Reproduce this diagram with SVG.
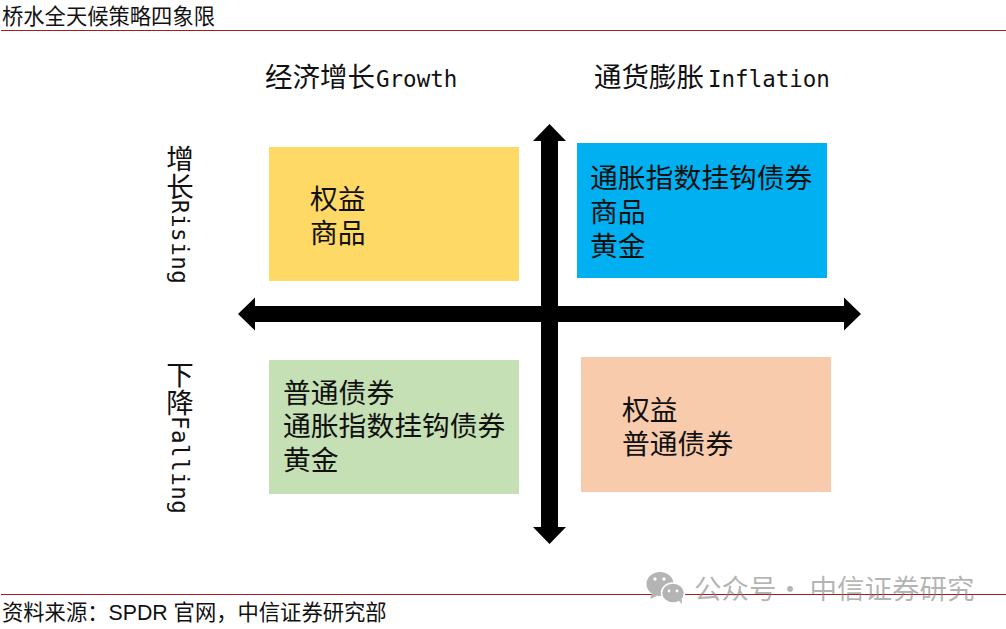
<svg xmlns="http://www.w3.org/2000/svg" width="1006" height="629" viewBox="0 0 1006 629">
<style>
text{font-family:"Noto Sans CJK SC","Liberation Sans",sans-serif;fill:#111}
.cap{font-size:21.300px}
.box{font-size:27.800px}
.head{font-size:27.500px}
.lat{font-family:"DejaVu Sans Mono","Liberation Mono",monospace;font-size:22.500px}
.vert{writing-mode:vertical-rl}
.vert .lat{letter-spacing:.5px}
.rule{stroke:#a51c1c;stroke-width:1.2}
.wm{font-size:27.500px;fill:#7a7a7a;fill-opacity:.56}
</style>
<rect width="1006" height="629" fill="#fff"/>
<g id="title"><text class="cap" x="2" y="24" textLength="213">桥水全天候策略四象限</text></g>
<line class="rule" x1="1" y1="30.500" x2="1006" y2="30.500"/>
<g id="head-growth"><text class="head" x="265" y="87">经济增长<tspan class="lat" dx="1">Growth</tspan></text></g>
<g id="head-inflation"><text class="head" x="594" y="87">通货膨胀<tspan class="lat" dx="4">Inflation</tspan></text></g>
<g id="side-rising"><text class="head vert" x="180" y="145">增长<tspan class="lat">Rising</tspan></text></g>
<g id="side-falling"><text class="head vert" x="180" y="361">下降<tspan class="lat">Falling</tspan></text></g>
<g id="q1"><rect x="269" y="147" width="250" height="134" fill="#ffd966"/>
<text class="box"><tspan x="310" y="209">权益</tspan><tspan x="310" y="243">商品</tspan></text></g>
<g id="q2"><rect x="577" y="143" width="250" height="135" fill="#00b0f0"/>
<text class="box"><tspan x="590" y="188">通胀指数挂钩债券</tspan><tspan x="590" y="222">商品</tspan><tspan x="590" y="256">黄金</tspan></text></g>
<g id="q3"><rect x="269" y="360" width="250" height="134" fill="#c5e0b4"/>
<text class="box"><tspan x="283" y="403">普通债券</tspan><tspan x="283" y="436">通胀指数挂钩债券</tspan><tspan x="283" y="470">黄金</tspan></text></g>
<g id="q4"><rect x="581" y="357" width="250" height="135" fill="#f8cbad"/>
<text class="box"><tspan x="622" y="420">权益</tspan><tspan x="622" y="454">普通债券</tspan></text></g>
<g id="connectors" fill="#000">
<path d="M549.500 124L566 141H558V527H566L549.500 544L533 527H541V141H533Z"/>
<path d="M238 314L255 297.500V306H844V297.500L861 314L844 330.500V322H255V330.500Z"/>
</g>
<line class="rule" x1="1" y1="594.500" x2="1006" y2="594.500"/>
<g id="source"><text class="cap" x="2" y="620">资料来源：<tspan font-family="Liberation Sans">SPDR </tspan>官网，中信证券研究部</text></g>
<g id="watermark">
<g fill="#b4b4b4"><ellipse cx="660" cy="584" rx="13.500" ry="12"/><path d="M652 593l-2 6 7-3z"/><ellipse cx="673" cy="593" rx="11.500" ry="10" stroke="#fff" stroke-width="1.500"/><path d="M678 600l4 4-.5-6z"/></g>
<g fill="#fff"><circle cx="655" cy="579" r="1.700"/><circle cx="664" cy="579" r="1.700"/><circle cx="669" cy="591" r="1.400"/><circle cx="677" cy="591" r="1.400"/></g>
<text class="wm" x="694" y="599">公众号</text>
<text class="wm" x="790" y="599" text-anchor="middle">·</text>
<text class="wm" x="809.500" y="599">中信证券研究</text>
</g>
</svg>
